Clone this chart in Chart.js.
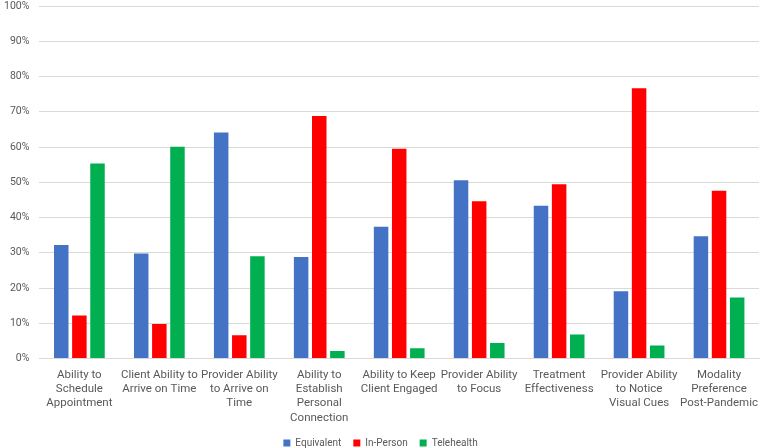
<!DOCTYPE html>
<html>
<head>
<meta charset="utf-8">
<script src="https://cdn.jsdelivr.net/npm/chart.js@4"></script>
<style>
  html, body { margin: 0; padding: 0; background: #fff; }
  #wrap { width: 767px; height: 448px; position: relative; }
</style>
</head>
<body>
<div id="wrap"><canvas id="chart"></canvas></div>
<script>
// Categories (multi-line labels as in the original)
const categories = [
    ['Ability to', 'Schedule', 'Appointment'],
    ['Client Ability to', 'Arrive on Time'],
    ['Provider Ability', 'to Arrive on', 'Time'],
    ['Ability to', 'Establish', 'Personal', 'Connection'],
    ['Ability to Keep', 'Client Engaged'],
    ['Provider Ability', 'to Focus'],
    ['Treatment', 'Effectiveness'],
    ['Provider Ability', 'to Notice', 'Visual Cues'],
    ['Modality', 'Preference', 'Post-Pandemic']
];

// Percentages
const equivalent = [32.2, 29.8, 64.1, 28.8, 37.4, 50.6, 43.3, 19.1, 34.7];
const inPerson   = [12.2,  9.8,  6.6, 68.8, 59.5, 44.6, 49.4, 76.7, 47.6];
const telehealth = [55.3, 60.1, 29.0,  2.1,  2.9,  4.4,  6.8,  3.7, 17.3];

Chart.defaults.font.family = "Roboto, 'Liberation Sans', sans-serif";
Chart.defaults.color = '#595959';

const ctx = document.getElementById('chart').getContext('2d');

const chart = new Chart(ctx, {
    type: 'bar',
    data: {
        labels: categories,
        datasets: [
            {
                label: 'Equivalent',
                data: equivalent,
                backgroundColor: '#4472C4',
                borderWidth: 0
            },
            {
                label: 'In-Person',
                data: inPerson,
                backgroundColor: '#FF0000',
                borderWidth: 0
            },
            {
                label: 'Telehealth',
                data: telehealth,
                backgroundColor: '#00B050',
                borderWidth: 0
            }
        ]
    },
    options: {
        responsive: true,
        maintainAspectRatio: false,
        animation: false,
        categoryPercentage: 0.68,
        barPercentage: 0.8,
        layout: {
            // negative bottom pushes the legend row lower, like the original
            padding: { top: 0, right: 0, left: -6, bottom: -10 }
        },
        plugins: {
            legend: {
                position: 'bottom',
                labels: {
                    boxWidth: 7,
                    boxHeight: 7,
                    padding: 12,
                    font: { size: 10 },
                    color: '#595959'
                }
            },
            tooltip: { enabled: false }
        },
        scales: {
            x: {
                grid: { display: false, drawTicks: false },
                border: { color: '#d9d9d9' },
                ticks: {
                    maxRotation: 0,
                    autoSkip: false,
                    font: { size: 11.5, lineHeight: 1.25 },
                    color: '#595959',
                    padding: 9
                },
                afterFit: scale => {
                    // let the last label line sit in the empty top of the legend box
                    scale.height -= 8;
                }
            },
            y: {
                min: 0,
                max: 100,
                border: { display: false },
                grid: { color: '#d9d9d9', lineWidth: 1, drawTicks: false },
                ticks: {
                    stepSize: 10,
                    padding: 10,
                    font: { size: 10.5 },
                    color: '#595959',
                    callback: v => v + '%'
                },
                afterFit: scale => {
                    // keep only half a label of room above the 100% line
                    scale.paddingTop = 6;
                    scale.paddingBottom = 6;
                }
            }
        }
    }
});
</script>
</body>
</html>
